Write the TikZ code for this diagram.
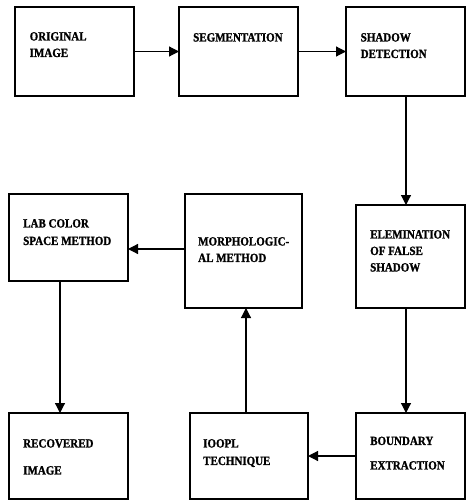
\documentclass[tikz,border=0pt]{standalone}
\usepackage{fontspec}
\setmainfont{Liberation Serif}[BoldFeatures={FakeBold=1.2,FakeStretch=0.88}]
\usetikzlibrary{arrows.meta}
\begin{document}
\begin{tikzpicture}[x=1pt,y=-1pt,
  box/.style={draw, line width=1.2pt, inner sep=0pt, outer sep=0pt, anchor=north west},
  lbl/.style={font=\fontsize{12.5}{16.5}\selectfont\bfseries, align=left, anchor=north west, inner sep=0pt},
  arr/.style={line width=1.2pt, -{Triangle[length=10pt,width=10pt]}}]
\useasboundingbox (0,0) rectangle (466,500);
% boxes
\node[box, minimum width=119pt, minimum height=89pt] (b1) at (15,7) {};
\node[box, minimum width=119pt, minimum height=89pt] (b2) at (179,7) {};
\node[box, minimum width=119pt, minimum height=89pt] (b3) at (346,7) {};
\node[box, minimum width=119pt, minimum height=87pt] (b4) at (9,194) {};
\node[box, minimum width=117pt, minimum height=114pt] (b5) at (185,194) {};
\node[box, minimum width=109pt, minimum height=103pt] (b6) at (356,205) {};
\node[box, minimum width=119pt, minimum height=86pt] (b7) at (9,413) {};
\node[box, minimum width=118pt, minimum height=86pt] (b8) at (190,413) {};
\node[box, minimum width=109pt, minimum height=86pt] (b9) at (356,413) {};
% labels
\node[lbl] (t1) at (29.5,32) {ORIGINAL\\IMAGE};
\node[lbl] (t2) at (193,33) {SEGMENTATION};
\node[lbl] (t3) at (360.5,33) {SHADOW\\DETECTION};
\node[lbl] (t4) at (23,219) {LAB COLOR\\[1pt]SPACE METHOD};
\node[lbl] (t5) at (198,237) {MORPHOLOGIC-\\AL METHOD};
\node[lbl] (t6) at (370,230) {ELEMINATION\\OF FALSE\\SHADOW};
\node[lbl] (t7) at (23,439) {RECOVERED\\[10.5pt]IMAGE};
\node[lbl] (t8) at (203,439) {IOOPL\\[1pt]TECHNIQUE};
\node[lbl] (t9) at (370,436.5) {BOUNDARY\\[8pt]EXTRACTION};
% connectors
\coordinate (c3) at (406,96);
\coordinate (c6) at (406,308);
\coordinate (c8) at (246,413);
\coordinate (c5) at (185,249);
\coordinate (c4) at (60,281);
\draw[arr] (b1.east) -- (b2.west);
\draw[arr] (b2.east) -- (b3.west);
\draw[arr] (c3) -- (c3 |- b6.north);
\draw[arr] (c6) -- (c6 |- b9.north);
\draw[arr] (b9.west) -- (b9.west -| b8.east);
\draw[arr] (c8) -- (c8 |- b5.south);
\draw[arr] (c5) -- (c5 -| b4.east);
\draw[arr] (c4) -- (c4 |- b7.north);
\end{tikzpicture}
\end{document}
